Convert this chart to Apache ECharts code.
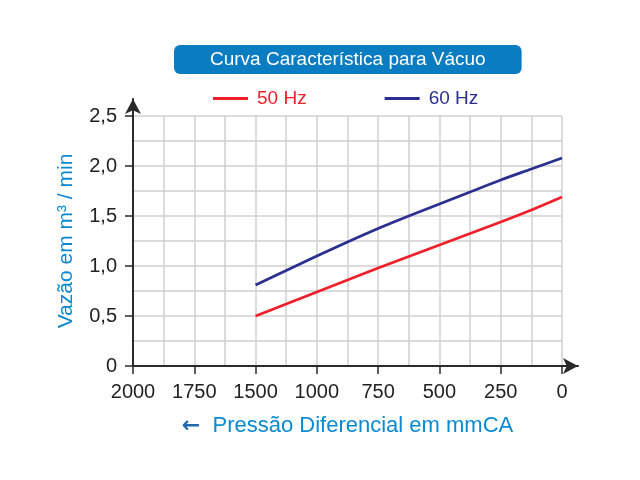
<!DOCTYPE html>
<html>
<head>
    <meta charset="utf-8">
    <title>Curva Característica para Vácuo</title>
    <script src="https://cdn.jsdelivr.net/npm/echarts@6/dist/echarts.min.js"></script>
    <style>
        html, body { margin: 0; padding: 0; background: #fff; }
        #chart { width: 640px; height: 480px; }
    </style>
</head>
<body>
    <div id="chart"></div>
    <script type="text/javascript">
    // posição no eixo (direita = 0); os rótulos impressos pulam o 1250
    var xPos = [1250, 1125, 1000, 875, 750, 625, 500, 375, 250, 125, 0];
    var xTickLabels = ['0', '250', '500', '750', '1000', '1500', '1750', '2000'];
    var vazao50 = [0.50, 0.62, 0.74, 0.86, 0.98, 1.095, 1.21, 1.325, 1.44, 1.56, 1.69];
    var vazao60 = [0.81, 0.955, 1.10, 1.24, 1.375, 1.50, 1.62, 1.74, 1.86, 1.97, 2.08];

    function pares(ys) {
        var out = [];
        for (var i = 0; i < xPos.length; i++) {
            out.push([xPos[i], ys[i]]);
        }
        return out;
    }

    var fonte = '"Liberation Sans", Arial, sans-serif';
    var cinza = '#d0d0d0';
    var eixo = '#2a2a2a';
    var azul = '#0b8ad0';

    var myChart = echarts.init(document.getElementById('chart'));

    var option = {
        backgroundColor: '#fff',
        textStyle: { fontFamily: fonte },
        title: {
            text: 'Curva Característica para Vácuo',
            left: 174,
            top: 45,
            padding: [4, 36, 4, 36],
            backgroundColor: '#0a7cc1',
            borderRadius: 6,
            textStyle: { color: '#fff', fontSize: 19, lineHeight: 21, fontWeight: 'normal', fontFamily: fonte }
        },
        legend: {
            top: 84,
            left: 208,
            icon: 'rect',
            itemWidth: 35,
            itemHeight: 3,
            itemGap: 78,
            textStyle: { fontSize: 19, fontFamily: fonte, padding: [0, 0, 0, 4] },
            data: [
                { name: '50 Hz', textStyle: { color: '#f0202a' } },
                { name: '60 Hz', textStyle: { color: '#2b2f8f' } }
            ]
        },
        grid: [
            { left: 133, right: 78, top: 116, bottom: 114 },
            { left: 133, right: 62, top: 99, bottom: 114 }
        ],
        xAxis: [
            {
                type: 'value',
                gridIndex: 0,
                inverse: true,
                min: 0,
                max: 1750,
                interval: 250,
                name: '{s|←}  Pressão Diferencial em mmCA',
                nameLocation: 'middle',
                nameGap: 49,
                nameTextStyle: {
                    color: azul,
                    fontSize: 22,
                    fontFamily: fonte,
                    rich: {
                        s: { color: '#1f68b0', fontSize: 22, fontWeight: 'bold', fontFamily: '"DejaVu Sans", sans-serif' }
                    }
                },
                axisLine: { show: false, onZero: false },
                axisTick: { show: true, length: 8, lineStyle: { color: eixo, width: 1.5 } },
                axisLabel: {
                    color: '#222',
                    fontSize: 20,
                    margin: 16,
                    formatter: function (v) { return xTickLabels[Math.round(v / 250)]; }
                },
                splitLine: { show: true, lineStyle: { color: cinza, width: 1.5 } },
                minorTick: { show: false, splitNumber: 2 },
                minorSplitLine: { show: true, lineStyle: { color: cinza, width: 1.5 } }
            },
            {
                type: 'value',
                gridIndex: 1,
                min: 0,
                max: 1,
                axisLine: {
                    show: true,
                    onZero: false,
                    symbol: ['none', 'arrow'],
                    symbolSize: [12, 15],
                    lineStyle: { color: eixo, width: 2 }
                },
                axisTick: { show: false },
                axisLabel: { show: false },
                splitLine: { show: false }
            }
        ],
        yAxis: [
            {
                type: 'value',
                gridIndex: 0,
                position: 'left',
                min: 0,
                max: 2.5,
                interval: 0.5,
                name: 'Vazão em m³ / min',
                nameLocation: 'middle',
                nameRotate: 90,
                nameGap: 56,
                nameTextStyle: { color: azul, fontSize: 21, fontFamily: fonte },
                axisLine: { show: false, onZero: false },
                axisTick: { show: true, length: 8, lineStyle: { color: eixo, width: 1.5 } },
                axisLabel: {
                    color: '#222',
                    fontSize: 20,
                    margin: 16,
                    formatter: function (v) { return v === 0 ? '0' : v.toFixed(1).replace('.', ','); }
                },
                splitLine: { show: true, lineStyle: { color: cinza, width: 1.5 } },
                minorTick: { show: false, splitNumber: 2 },
                minorSplitLine: { show: true, lineStyle: { color: cinza, width: 1.5 } }
            },
            {
                type: 'value',
                gridIndex: 1,
                position: 'left',
                min: 0,
                max: 1,
                axisLine: {
                    show: true,
                    onZero: false,
                    symbol: ['none', 'arrow'],
                    symbolSize: [12, 15],
                    lineStyle: { color: eixo, width: 2 }
                },
                axisTick: { show: false },
                axisLabel: { show: false },
                splitLine: { show: false }
            }
        ],
        series: [
            {
                name: '50 Hz',
                type: 'line',
                xAxisIndex: 0,
                yAxisIndex: 0,
                smooth: 0.3,
                showSymbol: false,
                data: pares(vazao50),
                lineStyle: { color: '#f0202a', width: 2.8 },
                itemStyle: { color: '#f0202a' }
            },
            {
                name: '60 Hz',
                type: 'line',
                xAxisIndex: 0,
                yAxisIndex: 0,
                smooth: 0.3,
                showSymbol: false,
                data: pares(vazao60),
                lineStyle: { color: '#2b2f8f', width: 2.8 },
                itemStyle: { color: '#2b2f8f' }
            }
        ]
    };

    myChart.setOption(option);
    </script>
</body>
</html>
